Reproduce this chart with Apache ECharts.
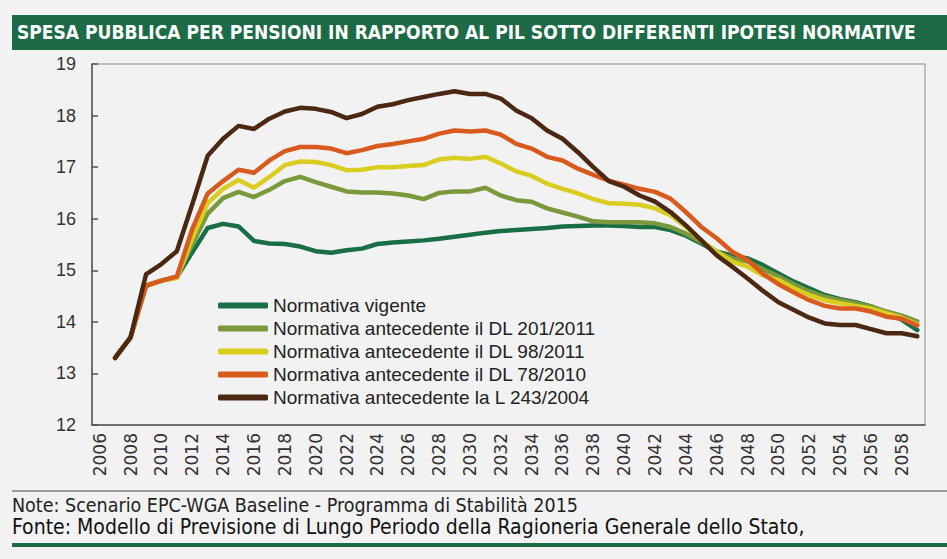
<!DOCTYPE html>
<html>
<head>
<meta charset="utf-8">
<script src="https://cdn.jsdelivr.net/npm/echarts@6/dist/echarts.min.js"></script>
<style>
  html, body { margin: 0; padding: 0; background: #f2f2f2; }
  #chart { width: 947px; height: 559px; }
</style>
</head>
<body>
<div id="chart"></div>
<script>
// anni 2006-2059 (categorie)
var years = [];
for (var y = 2006; y <= 2059; y++) years.push(String(y));

var seriesNames = [
	'Normativa vigente',
	'Normativa antecedente il DL 201/2011',
	'Normativa antecedente il DL 98/2011',
	'Normativa antecedente il DL 78/2010',
	'Normativa antecedente la L 243/2004'
];

var vigente = [null, 13.3, 13.7, 14.7, 14.8, 14.87, 15.35, 15.82, 15.9, 15.85,
	15.57, 15.52, 15.51, 15.46, 15.37, 15.34, 15.39, 15.42, 15.51, 15.54,
	15.56, 15.58, 15.61, 15.65, 15.69, 15.73, 15.76, 15.78, 15.8, 15.82,
	15.85, 15.86, 15.87, 15.87, 15.86, 15.84, 15.84, 15.78, 15.67, 15.52,
	15.36, 15.29, 15.23, 15.1, 14.94, 14.78, 14.65, 14.52, 14.44, 14.38,
	14.3, 14.17, 14.04, 13.84];

var dl201 = [null, 13.3, 13.7, 14.7, 14.8, 14.86, 15.5, 16.1, 16.4, 16.52,
	16.42, 16.56, 16.73, 16.81, 16.71, 16.62, 16.53, 16.51, 16.51, 16.49,
	16.45, 16.38, 16.5, 16.53, 16.53, 16.6, 16.45, 16.36, 16.33, 16.2,
	16.12, 16.04, 15.95, 15.93, 15.93, 15.93, 15.91, 15.84, 15.71, 15.55,
	15.36, 15.23, 15.17, 15.02, 14.88, 14.73, 14.59, 14.49, 14.42, 14.36,
	14.3, 14.2, 14.12, 14.01];

var dl98 = [null, 13.3, 13.7, 14.7, 14.8, 14.85, 15.62, 16.3, 16.58, 16.75,
	16.6, 16.81, 17.04, 17.11, 17.1, 17.04, 16.94, 16.95, 17.0, 17.0,
	17.02, 17.04, 17.15, 17.18, 17.16, 17.2, 17.07, 16.92, 16.83, 16.68,
	16.58, 16.49, 16.38, 16.3, 16.29, 16.27, 16.2, 16.07, 15.84, 15.58,
	15.36, 15.17, 15.07, 14.9, 14.81, 14.65, 14.52, 14.42, 14.36, 14.31,
	14.26, 14.17, 14.08, 13.95];

var dl78 = [null, 13.3, 13.7, 14.7, 14.8, 14.88, 15.8, 16.49, 16.73, 16.95,
	16.89, 17.13, 17.31, 17.39, 17.39, 17.36, 17.27, 17.33, 17.41, 17.45,
	17.5, 17.55, 17.65, 17.71, 17.69, 17.71, 17.63, 17.45, 17.36, 17.2,
	17.13, 16.97, 16.85, 16.74, 16.66, 16.58, 16.52, 16.39, 16.13, 15.84,
	15.62, 15.36, 15.2, 14.93, 14.73, 14.57, 14.42, 14.31, 14.26, 14.26,
	14.2, 14.1, 14.06, 13.93];

var l243 = [null, 13.3, 13.7, 14.92, 15.12, 15.37, 16.28, 17.22, 17.55, 17.8,
	17.74, 17.94, 18.08, 18.15, 18.13, 18.07, 17.95, 18.03, 18.17, 18.22,
	18.3, 18.36, 18.42, 18.47, 18.42, 18.42, 18.33, 18.1, 17.95, 17.71,
	17.55, 17.29, 17.0, 16.73, 16.62, 16.45, 16.33, 16.13, 15.87, 15.58,
	15.29, 15.07, 14.84, 14.6, 14.38, 14.23, 14.08, 13.97, 13.94, 13.94,
	13.86, 13.78, 13.78, 13.72];

var colors = ['#1a6e45', '#7a983c', '#d9cd1f', '#d95a1f', '#4a2813'];
var allData = [vigente, dl201, dl98, dl78, l243];

var chart = echarts.init(document.getElementById('chart'), null, {renderer: 'svg'});

var series = [];
for (var i = 0; i < seriesNames.length; i++) {
	series.push({
		name: seriesNames[i],
		type: 'line',
		data: allData[i],
		symbol: 'none',
		color: colors[i],
		lineStyle: {width: 4.5, color: colors[i], cap: 'round', join: 'round'},
		z: 2 + i
	});
}

var option = {
	backgroundColor: '#f2f2f2',
	animation: false,
	grid: {
		left: 92, right: 22, top: 64, bottom: 134,
		show: true, borderColor: '#8a8a8a', borderWidth: 1,
		containLabel: false, outerBoundsMode: 'none'
	},
	legend: {
		orient: 'vertical',
		left: 213, top: 291,
		itemWidth: 50, itemHeight: 6, itemGap: 4,
		icon: 'roundRect',
		textStyle: {fontSize: 19, color: '#222', fontFamily: 'Liberation Sans, Arial, sans-serif', padding: [0, 0, 0, 0]},
		data: seriesNames
	},
	xAxis: {
		type: 'category',
		data: years,
		boundaryGap: true,
		axisLine: {lineStyle: {color: '#555', width: 1.5}},
		axisTick: {interval: 1, length: 6, lineStyle: {color: '#555', width: 1.5}},
		axisLabel: {interval: 1, rotate: 90, margin: 8, fontSize: 17, color: '#333', fontFamily: 'DejaVu Sans, sans-serif'},
		splitLine: {show: false}
	},
	yAxis: {
		type: 'value',
		min: 12, max: 19, interval: 1,
		axisLine: {show: true, lineStyle: {color: '#555', width: 1.5}},
		axisTick: {show: true, inside: true, length: 6, lineStyle: {color: '#555', width: 1.5}},
		axisLabel: {fontSize: 18, color: '#333', margin: 16, fontFamily: 'Liberation Sans, Arial, sans-serif'},
		splitLine: {show: false}
	},
	graphic: [
		{type: 'rect', left: 12, top: 15, shape: {width: 935, height: 35}, style: {fill: '#1d6a46'}, silent: true},
		{type: 'text', left: 17, top: 22, style: {
			text: 'SPESA PUBBLICA PER PENSIONI IN RAPPORTO AL PIL SOTTO DIFFERENTI IPOTESI NORMATIVE',
			fill: '#fff', font: 'bold 19px "Liberation Sans Narrow", "DejaVu Sans Condensed", sans-serif'
		}},
		{type: 'rect', left: 12, top: 490, shape: {width: 935, height: 2}, style: {fill: '#9a9a9a'}, silent: true},
		{type: 'text', left: 12, top: 495, style: {
			text: 'Note: Scenario EPC-WGA Baseline - Programma di Stabilità 2015',
			fill: '#222', font: '19.5px "Liberation Sans Narrow", "DejaVu Sans Condensed", sans-serif'
		}},
		{type: 'text', left: 12, top: 516, style: {
			text: 'Fonte: Modello di Previsione di Lungo Periodo della Ragioneria Generale dello Stato,',
			fill: '#111', font: '21px "Liberation Sans Narrow", "DejaVu Sans Condensed", sans-serif'
		}},
		{type: 'rect', left: 12, top: 543, shape: {width: 935, height: 4}, style: {fill: '#1d6a46'}, silent: true}
	],
	series: series
};

chart.setOption(option);
</script>
</body>
</html>
